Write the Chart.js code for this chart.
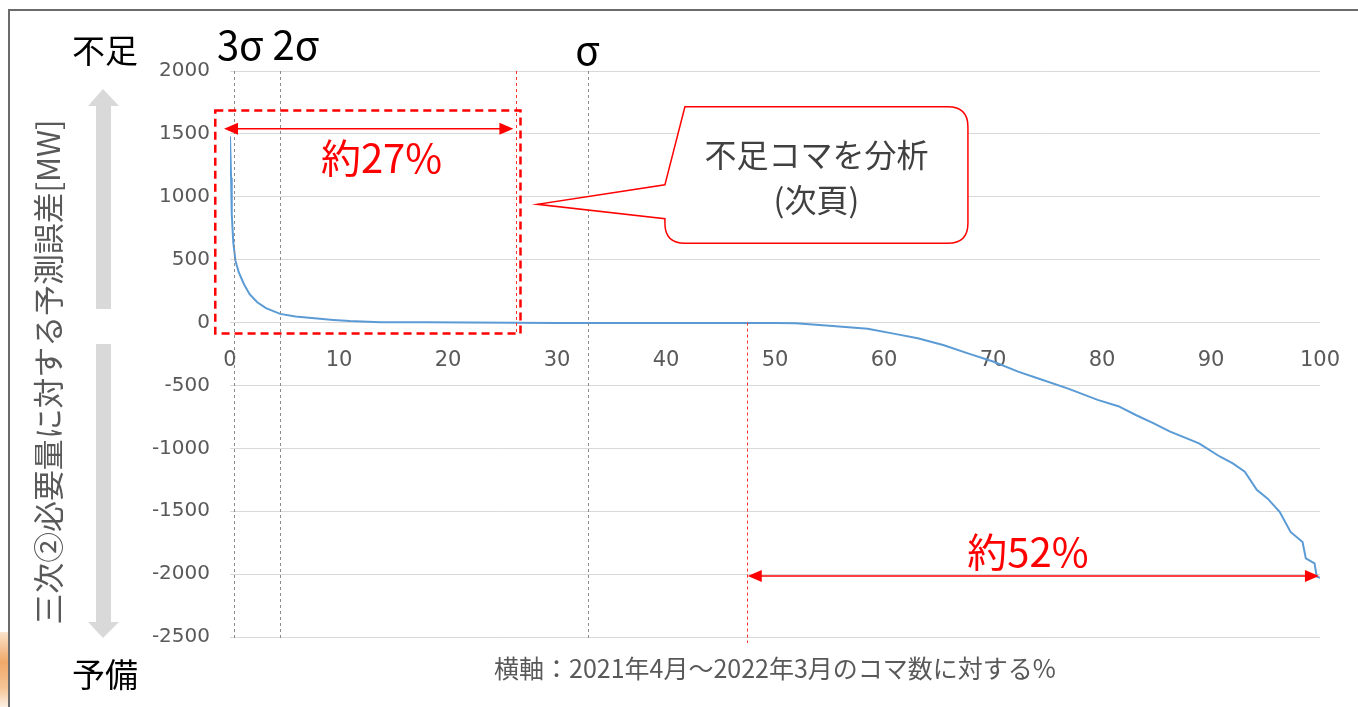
<!DOCTYPE html>
<html>
<head>
<meta charset="utf-8">
<script src="https://cdn.jsdelivr.net/npm/chart.js@4/dist/chart.umd.min.js"></script>
<style>
  html, body { margin: 0; padding: 0; background: #fff; }
  #wrap { position: relative; width: 1358px; height: 707px; overflow: hidden; }
  #frame { position: absolute; left: 8px; top: 9px; right: -4px; bottom: -4px;
           border-top: 2px solid #6b6b6b; border-left: 2px solid #6b6b6b; }
  #smudge { position: absolute; left: 0; top: 632px; width: 8px; height: 75px;
            background: linear-gradient(#fbe3cc, #f0a868 40%, #f6c597 75%, #fdf0e4); }
  canvas { position: absolute; left: 0; top: 0; }
</style>
</head>
<body>
<div id="wrap">
  <div id="smudge"></div>
  <div id="frame"></div>
  <canvas id="mChart" width="1358" height="707"></canvas>
</div>
<script>
// horizontal axis: % of all slots (Apr 2021 - Mar 2022), sorted by error
var xPct = [0, 0.1, 0.16, 0.3, 0.5, 0.8, 1.27, 1.8, 2.5, 3.3, 4.6, 6, 8, 9.5, 11, 13.8, 18, 22, 26,
            30, 35, 40, 45, 50, 51.9, 55, 58.5, 61, 63.1, 65.5, 67.7, 70, 72.3, 74.5, 76.9, 79.6,
            81.5, 83.1, 84.7, 86.2, 88.9, 90.8, 92, 93.1, 94.2, 95.2, 96.3, 97.3, 98.4, 98.7,
            99.5, 99.7, 100];
// forecast error vs. required amount [MW]
var errMW = [1480, 1150, 865, 640, 492, 400, 307, 225, 161, 115, 69, 48, 32, 21, 12, 2, 2, 1, -2,
             -3, -3, -3, -4, -4, -5, -25, -50, -90, -125, -180, -245, -310, -390, -455, -525, -615,
             -665, -735, -800, -865, -960, -1065, -1120, -1185, -1330, -1400, -1505, -1665, -1745,
             -1875, -1915, -2020, -2030];

var yTicks = { min: -2500, max: 2000, step: 500 };
var xTicks = { min: 0, max: 100, step: 10 };

// marker lines
var sigmaPct = [0.4, 4.6, 32.8];
var shortPct = 26.2;    // 約27%
var reservePct = 47.4;  // 約52%

var yTitle = '三次②必要量に対する予測誤差[MW]';
var xTitle = '横軸：2021年4月～2022年3月のコマ数に対する%';

var jp = '"Noto Sans CJK JP", "Noto Sans", sans-serif';
var grey = '#595959';

function arrowHead(ctx, x, y, dir) {
    ctx.beginPath();
    ctx.moveTo(x, y);
    ctx.lineTo(x - dir * 14, y - 6);
    ctx.lineTo(x - dir * 14, y + 6);
    ctx.closePath();
    ctx.fill();
}

function roundRect(ctx, l, t, r, b, rad) {
    ctx.moveTo(l + rad, t);
    ctx.lineTo(r - rad, t);
    ctx.quadraticCurveTo(r, t, r, t + rad);
    ctx.lineTo(r, b - rad);
    ctx.quadraticCurveTo(r, b, r - rad, b);
    ctx.lineTo(l + rad, b);
    ctx.quadraticCurveTo(l, b, l, b - rad);
}

// everything that sits on top of the line
var overlay = {
    id: 'overlay',
    afterDraw: function(chart) {
        var ctx = chart.ctx;
        var x = chart.scales.x, y = chart.scales.y;
        var top = y.getPixelForValue(yTicks.max), bot = y.getPixelForValue(yTicks.min);
        ctx.save();

        // sigma lines
        ctx.setLineDash([3, 3]);
        ctx.lineWidth = 1;
        ctx.strokeStyle = '#8c8c8c';
        sigmaPct.forEach(function(v) {
            var px = Math.round(x.getPixelForValue(v)) + 0.5;
            ctx.beginPath(); ctx.moveTo(px, top); ctx.lineTo(px, bot + 4); ctx.stroke();
        });

        // red thin dashed lines
        ctx.strokeStyle = '#ff3030';
        var px1 = Math.round(x.getPixelForValue(shortPct)) + 0.5;
        ctx.beginPath(); ctx.moveTo(px1, top); ctx.lineTo(px1, y.getPixelForValue(-90)); ctx.stroke();
        var px2 = Math.round(x.getPixelForValue(reservePct)) + 0.5;
        ctx.beginPath(); ctx.moveTo(px2, y.getPixelForValue(0)); ctx.lineTo(px2, bot + 6); ctx.stroke();

        // red dashed box round the shortage part
        ctx.setLineDash([8, 5]);
        ctx.lineWidth = 2.5;
        ctx.strokeStyle = '#ff0000';
        var bl = x.getPixelForValue(-1.35), br = x.getPixelForValue(26.65);
        var bt = y.getPixelForValue(1685), bb = y.getPixelForValue(-87);
        ctx.strokeRect(bl, bt, br - bl, bb - bt);

        // arrows
        ctx.setLineDash([]);
        ctx.lineWidth = 1.5;
        ctx.fillStyle = '#ff0000';
        var ay = y.getPixelForValue(1540);
        var a1 = x.getPixelForValue(-0.55), a2 = x.getPixelForValue(26.0);
        ctx.beginPath(); ctx.moveTo(a1 + 10, ay); ctx.lineTo(a2 - 10, ay); ctx.stroke();
        arrowHead(ctx, a1, ay, -1); arrowHead(ctx, a2, ay, 1);
        var by = y.getPixelForValue(-2015);
        var b1 = x.getPixelForValue(reservePct + 0.1), b2 = x.getPixelForValue(99.9);
        ctx.beginPath(); ctx.moveTo(b1 + 10, by); ctx.lineTo(b2 - 10, by); ctx.stroke();
        arrowHead(ctx, b1, by, -1); arrowHead(ctx, b2, by, 1);

        ctx.font = '40px ' + jp;
        ctx.textAlign = 'center';
        ctx.textBaseline = 'middle';
        ctx.fillText('約27%', x.getPixelForValue(13.9), y.getPixelForValue(1310));
        ctx.fillText('約52%', x.getPixelForValue(73.2), y.getPixelForValue(-1825));

        // callout
        var cl = x.getPixelForValue(39.9), cr = x.getPixelForValue(67.7);
        var ct = y.getPixelForValue(1715), cb = y.getPixelForValue(630);
        var tipX = x.getPixelForValue(28.2), tipY = y.getPixelForValue(940);
        ctx.beginPath();
        roundRect(ctx, cl, ct, cr, cb, 20);
        ctx.lineTo(cl, y.getPixelForValue(825));
        ctx.lineTo(tipX, tipY);
        ctx.lineTo(cl, y.getPixelForValue(1095));
        ctx.closePath();
        ctx.fillStyle = '#ffffff';
        ctx.fill();
        ctx.strokeStyle = '#ff0000';
        ctx.lineWidth = 1.5;
        ctx.stroke();
        ctx.fillStyle = '#404040';
        ctx.font = '32px ' + jp;
        var cx = (cl + cr) / 2;
        ctx.fillText('不足コマを分析', cx, ct + 48);
        ctx.fillText('(次頁)', cx, ct + 93);

        // sigma labels
        ctx.fillStyle = '#000';
        ctx.font = '40px ' + jp;
        ctx.textAlign = 'left';
        ctx.fillText('3σ 2σ', x.getPixelForValue(-1.2), 45);
        ctx.textAlign = 'center';
        ctx.fillText('σ', x.getPixelForValue(sigmaPct[2]), 50);

        // 不足 / 予備
        ctx.font = '33px ' + jp;
        ctx.fillText('不足', 105, 50);
        ctx.fillText('予備', 105, 674);

        // grey direction arrows
        ctx.fillStyle = '#d9d9d9';
        ctx.beginPath();
        ctx.moveTo(103, 89); ctx.lineTo(119, 106); ctx.lineTo(111, 106); ctx.lineTo(111, 309);
        ctx.lineTo(96, 309); ctx.lineTo(96, 106); ctx.lineTo(88, 106); ctx.closePath(); ctx.fill();
        ctx.beginPath();
        ctx.moveTo(103, 638); ctx.lineTo(119, 622); ctx.lineTo(111, 622); ctx.lineTo(111, 344);
        ctx.lineTo(96, 344); ctx.lineTo(96, 622); ctx.lineTo(88, 622); ctx.closePath(); ctx.fill();

        // axis titles
        ctx.fillStyle = grey;
        ctx.font = '31px ' + jp;
        ctx.translate(48, 372);
        ctx.rotate(-Math.PI / 2);
        ctx.fillText(yTitle, 0, 0, 505);
        ctx.setTransform(1, 0, 0, 1, 0, 0);
        ctx.font = '25px ' + jp;
        ctx.fillText(xTitle, 775, 668, 576);

        ctx.restore();
    }
};

var ctx = document.getElementById('mChart');
var myChart = new Chart(ctx, {
    type: 'line',
    data: {
        datasets: [{
            data: xPct.map(function(v, i) { return { x: v, y: errMW[i] }; }),
            borderColor: '#5b9bd5',
            borderWidth: 2,
            pointRadius: 0,
            tension: 0,
            fill: false
        }]
    },
    options: {
        responsive: false,
        animation: false,
        layout: { padding: { left: 0, right: 38, top: 71, bottom: 70 } },
        plugins: { legend: { display: false }, tooltip: { enabled: false } },
        scales: {
            x: {
                type: 'linear',
                position: { y: 0 },
                min: xTicks.min, max: xTicks.max,
                ticks: { stepSize: xTicks.step, padding: 25, maxRotation: 0, color: grey,
                         font: { family: 'DejaVu Sans', size: 21 },
                         callback: function(v) { return String(v); } },
                grid: { display: false, drawTicks: false },
                border: { display: false },
                afterFit: function(s) { s.paddingLeft = 0; s.paddingRight = 0; }
            },
            y: {
                min: yTicks.min, max: yTicks.max,
                ticks: { stepSize: yTicks.step, padding: 20, color: grey,
                         font: { family: 'DejaVu Sans', size: 20 },
                         callback: function(v) { return String(v); } },
                grid: { color: '#d9d9d9', drawTicks: false },
                border: { display: false },
                afterFit: function(s) { s.width = 230; }
            }
        }
    },
    plugins: [overlay]
});
</script>
</body>
</html>
